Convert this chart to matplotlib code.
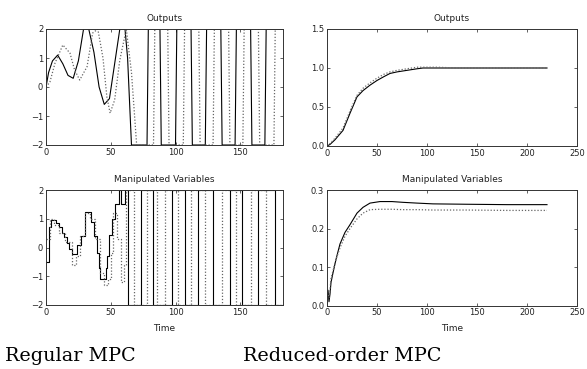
import matplotlib
matplotlib.use("Agg")
import matplotlib.pyplot as plt
import numpy as np

# ---------------- data ----------------
# Regular MPC - outputs (time, value) ; saturated at +/-2 later
reg_out1_t = [0, 2, 5, 9, 13, 17, 21, 25, 29, 33, 37, 41, 45, 49, 53, 57, 61, 63, 66,
              67, 78, 79, 88, 89, 100, 101, 112, 113, 123, 124, 135, 136, 146, 147,
              158, 159, 169, 170, 182, 183]
reg_out1_y = [0, 0.5, 0.9, 1.1, 0.8, 0.4, 0.3, 0.9, 2.0, 2.0, 1.2, 0.0, -0.6, -0.4, 0.8, 2.0, 2.0, 1.0, -2,
              -2, -2, 2, 2, -2, -2, 2, 2, -2, -2, 2, 2, -2, -2, 2,
              2, -2, -2, 2, 2, 2]
reg_out2_t = [0, 3, 7, 13, 18.5, 22, 26, 31.7, 36, 40, 44, 47, 49.5, 53, 57, 62, 66, 70,
              72, 83, 84, 94, 95, 106, 107, 118, 119, 129, 130, 141, 142, 152, 153, 164,
              165, 176, 177, 183]
reg_out2_y = [0, 0.17, 0.83, 1.45, 1.17, 0.6, 0.24, 0.7, 1.86, 2.0, 1.0, -0.34, -0.9, -0.45, 0.93, 2.0, 0.5, -2,
              -2, -2, 2, 2, -2, -2, 2, 2, -2, -2, 2, 2, -2, -2, 2, 2,
              -2, -2, 2, 2]

# Regular MPC - manipulated variables (step signals)
reg_u1_t = [0, 2, 4, 8, 10, 12, 14, 16, 18, 20, 24, 27, 30, 35, 37, 39, 41, 42, 46, 47, 49, 51, 53,
            56, 58, 61, 63, 73, 83, 97, 107, 117, 129, 142, 151, 164, 177, 183]
reg_u1_y = [-0.5, 0.7, 0.97, 0.85, 0.73, 0.52, 0.35, 0.17, -0.05, -0.24, 0.1, 0.4, 1.25, 0.9, 0.4, -0.2, -0.7, -1.1,
            -0.7, -0.3, 0.45, 1.0, 1.5, 2.0, 1.5, 2.0, -2, 2, -2, 2, -2, 2, -2, 2, -2, 2, -2, -2]
reg_u2_t = [0, 3, 6, 10, 15, 20, 23, 26, 30, 34, 38, 42, 45, 48, 50, 52, 55, 58, 60, 62,
            68, 78, 86, 92, 102, 112, 123, 136, 147, 158, 170, 183]
reg_u2_y = [0.3, 1.0, 0.8, 0.5, 0.2, -0.6, -0.3, 0.4, 1.2, 1.0, 0.3, -0.9, -1.3, -1.1, -0.2, 1.2, 0.3, -1.2, -0.6, 2.0,
            -2, 2, -2, 2, -2, 2, -2, 2, -2, 2, -2, -2]

# Reduced-order MPC - outputs
red_out_t = [0, 3, 8, 16, 23, 30, 36, 43, 50, 57, 63, 70, 80, 90, 96, 110, 130, 160, 190, 220]
red_out1_y = [0, 0.02, 0.08, 0.2, 0.42, 0.63, 0.71, 0.78, 0.84, 0.89, 0.93, 0.95, 0.97, 0.99, 1.0, 1.0, 1.0, 1.0, 1.0, 1.0]
red_out2_y = [0, 0.03, 0.1, 0.23, 0.45, 0.65, 0.74, 0.81, 0.87, 0.92, 0.95, 0.97, 0.99, 1.01, 1.01, 1.01, 1.0, 1.0, 1.0, 1.0]

# Reduced-order MPC - manipulated variables
red_u_t = [0, 1, 2, 3, 4, 6, 9, 13, 18, 23, 30, 36, 43, 53, 65, 76, 90, 106, 140, 180, 220]
red_u1_y = [0, 0.04, 0.01, 0.03, 0.06, 0.085, 0.12, 0.16, 0.19, 0.21, 0.24, 0.255, 0.266, 0.27, 0.27, 0.268, 0.266, 0.264, 0.263, 0.262, 0.262]
red_u2_y = [0, 0.03, 0.02, 0.04, 0.07, 0.09, 0.12, 0.15, 0.18, 0.2, 0.225, 0.24, 0.249, 0.25, 0.25, 0.249, 0.249, 0.248, 0.248, 0.247, 0.247]

reg_xticks = [0, 50, 100, 150]
reg_yticks = [-2, -1, 0, 1, 2]
red_xticks = [0, 50, 100, 150, 200, 250]
red_out_yticks = [0, 0.5, 1, 1.5]
red_u_yticks = [0, 0.1, 0.2, 0.3]

# ---------------- figure ----------------
W, H = 587, 369
fig = plt.figure(figsize=(W / 100, H / 100), dpi=100)


def ax_at(x0, y0, x1, y1):
    return fig.add_axes([x0 / W, 1 - y1 / H, (x1 - x0) / W, (y1 - y0) / H])


def style(ax, title, xticks, yticks, xlim, ylim, xlabel=None):
    ax.set_xlim(*xlim)
    ax.set_ylim(*ylim)
    ax.set_xticks(xticks)
    ax.set_yticks(yticks)
    ax.tick_params(direction="in", length=2.5, width=0.5, labelsize=6, pad=2,
                   top=True, right=True, colors="#222222")
    for s in ax.spines.values():
        s.set_linewidth(0.7)
        s.set_color("#333333")
    ax.set_title(title, fontsize=6.5, pad=6, color="#222222")
    if xlabel:
        ax.set_xlabel(xlabel, fontsize=6.5, labelpad=5, color="#222222")


solid = dict(color="black", lw=0.8)
dotted = dict(color="#666666", lw=0.9, ls=(0, (1, 1.5)))

# Regular MPC outputs
a1 = ax_at(46, 29, 283, 145)
a1.plot(reg_out1_t, reg_out1_y, **solid)
a1.plot(reg_out2_t, reg_out2_y, **dotted)
style(a1, "Outputs", reg_xticks, reg_yticks, (0, 183), (-2, 2))

# Regular MPC manipulated
a2 = ax_at(46, 190, 283, 305)
a2.step(reg_u1_t, reg_u1_y, where="post", **solid)
a2.step(reg_u2_t, reg_u2_y, where="post", **dotted)
style(a2, "Manipulated Variables", reg_xticks, reg_yticks, (0, 183), (-2, 2), xlabel="Time")

# Reduced-order outputs
a3 = ax_at(327, 29, 577, 146)
a3.plot(red_out_t, red_out1_y, **solid)
a3.plot(red_out_t, red_out2_y, **dotted)
style(a3, "Outputs", red_xticks, red_out_yticks, (0, 250), (0, 1.5))

# Reduced-order manipulated
a4 = ax_at(327, 190, 577, 305.6)
a4.plot(red_u_t, red_u1_y, **solid)
a4.plot(red_u_t, red_u2_y, **dotted)
style(a4, "Manipulated Variables", red_xticks, red_u_yticks, (0, 250), (0, 0.3), xlabel="Time")

# captions
fig.text(5 / W, 1 - 361 / H, "Regular MPC", fontsize=13.8, family="DejaVu Serif",
         ha="left", va="baseline")
fig.text(243 / W, 1 - 361 / H, "Reduced-order MPC", fontsize=13.8, family="DejaVu Serif",
         ha="left", va="baseline")

fig.savefig("out.png", dpi=100)
